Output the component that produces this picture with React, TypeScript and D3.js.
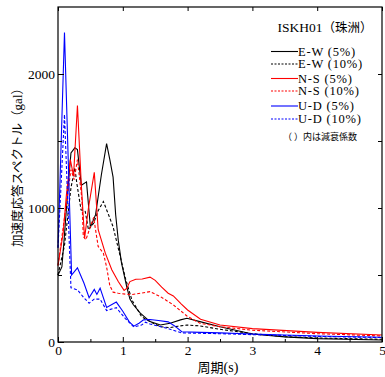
import * as d3 from "d3";
import {useEffect, useRef} from "react";

// response spectra, [period (s), acceleration (gal)]
const ew5: [number, number][] = [
	[0, 500], [0.06, 560], [0.1, 800], [0.16, 1186], [0.2, 1411], [0.26, 1449], [0.3, 1436],
	[0.36, 1170], [0.44, 1195], [0.5, 856], [0.58, 950], [0.67, 1250], [0.75, 1480], [0.8, 1361],
	[0.85, 1230], [0.89, 950], [0.93, 760], [0.98, 590], [1.06, 414], [1.11, 320], [1.16, 280],
	[1.27, 215], [1.42, 152], [1.58, 127], [1.73, 140], [1.89, 165], [1.99, 177], [2.19, 152],
	[2.5, 114], [3, 60], [3.5, 38], [4, 25], [5, 15],
];
const ew10: [number, number][] = [
	[0, 500], [0.1, 720], [0.2, 1150], [0.26, 1300], [0.29, 1186], [0.355, 987], [0.42, 975],
	[0.47, 838], [0.55, 887], [0.62, 980], [0.7, 1049], [0.78, 950], [0.85, 860], [0.9, 760],
	[0.96, 640], [1.04, 476], [1.14, 314], [1.29, 189], [1.42, 152], [1.58, 114], [1.73, 107],
	[1.85, 118], [1.99, 127], [2.19, 120], [2.5, 95], [3, 62], [3.5, 40], [4, 30], [5, 20],
];
const ns5: [number, number][] = [
	[0, 571], [0.08, 813], [0.13, 1100], [0.19, 1361], [0.24, 1240], [0.3, 1765], [0.36, 1170],
	[0.41, 775], [0.47, 1000], [0.56, 1266], [0.62, 838], [0.73, 663], [0.83, 539], [0.93, 451],
	[1.02, 385], [1.06, 400], [1.11, 451], [1.2, 468], [1.3, 470], [1.42, 484], [1.5, 460],
	[1.6, 410], [1.7, 364], [1.78, 344], [1.9, 285], [2.0, 239], [2.2, 170], [2.5, 127],
	[3, 100], [4, 72], [5, 52],
];
const ns10: [number, number][] = [
	[0, 571], [0.11, 963], [0.2, 1286], [0.25, 1212], [0.3, 1361], [0.37, 1062], [0.39, 788],
	[0.43, 763], [0.55, 930], [0.62, 713], [0.7, 663], [0.75, 560], [0.8, 420], [0.85, 372],
	[0.93, 364], [1.06, 356], [1.15, 355], [1.27, 364], [1.42, 376], [1.58, 339], [1.78, 277],
	[1.99, 194], [2.19, 140], [2.5, 114], [3, 88], [4, 62], [5, 45],
];
const ud5: [number, number][] = [
	[0, 703], [0.1, 2309], [0.21, 500], [0.3, 553], [0.4, 440], [0.48, 330], [0.56, 392],
	[0.6, 355], [0.65, 402], [0.75, 258], [0.9, 298], [1.0, 230], [1.1, 150], [1.17, 118],
	[1.25, 140], [1.32, 165], [1.42, 168], [1.55, 160], [1.7, 150], [1.8, 120], [1.91, 77],
	[2.2, 72], [2.5, 68], [3, 60], [4, 45], [5, 36],
];
const ud10: [number, number][] = [
	[0, 703], [0.1, 1698], [0.2, 405], [0.3, 389], [0.4, 330], [0.48, 290], [0.56, 320],
	[0.65, 320], [0.75, 235], [0.9, 256], [1.04, 175], [1.17, 112], [1.29, 127], [1.35, 148],
	[1.42, 135], [1.55, 118], [1.7, 100], [1.91, 68], [2.5, 62], [3, 55], [4, 42], [5, 33],
];

const seriesNames = ["E-W (5%)", "E-W (10%)", "N-S (5%)", "N-S (10%)", "U-D (5%)", "U-D (10%)"];
const seriesData = [ew5, ew10, ns5, ns10, ud5, ud10];
const seriesColors = ["#000000", "#000000", "#ff0000", "#ff0000", "#0000ff", "#0000ff"];
const seriesDashed = [false, true, false, true, false, true];

const xTicks = [0, 1, 2, 3, 4, 5];
const yTicks = [0, 1000, 2000];

const serif = "'Liberation Serif', 'Times New Roman', serif";
const cjk = "'Noto Sans CJK JP', sans-serif";

const App = () => {
	const svgRef = useRef(null);

	useEffect(() => {
		const width = 385;
		const height = 377;
		const margin = {top: 7, right: 3, bottom: 35, left: 58};

		const x = d3.scaleLinear().domain([0, 5]).range([margin.left, width - margin.right]);
		const y = d3.scaleLinear().domain([0, 2500]).range([height - margin.bottom, margin.top]);

		const svg = d3.select(svgRef.current).attr("width", width).attr("height", height);
		svg.selectAll("*").remove();

		// curves
		const line = d3
			.line<[number, number]>()
			.x((d) => x(d[0]))
			.y((d) => y(d[1]));

		seriesData.forEach((data, i) => {
			svg
				.append("path")
				.attr("d", line(data))
				.attr("fill", "none")
				.attr("stroke", seriesColors[i])
				.attr("stroke-width", 1.1)
				.attr("stroke-dasharray", seriesDashed[i] ? "3,2" : null);
		});

		// frame
		svg
			.append("rect")
			.attr("x", x(0))
			.attr("y", y(2500))
			.attr("width", x(5) - x(0))
			.attr("height", y(0) - y(2500))
			.attr("fill", "none")
			.attr("stroke", "#000")
			.attr("stroke-width", 1.2);

		const styleAxis = (g) => {
			g.select(".domain").remove();
			g.selectAll("line").attr("stroke", "#000");
			g.selectAll("text").attr("font-family", serif).attr("font-size", 13.5).attr("fill", "#000");
		};

		// bottom axis: labels on whole seconds, minor ticks every 0.5 s
		svg
			.append("g")
			.attr("transform", `translate(0,${y(0)})`)
			.call(d3.axisBottom(x).tickValues(d3.range(0.5, 5, 1)).tickSize(-3).tickFormat(() => ""))
			.call(styleAxis);
		svg
			.append("g")
			.attr("transform", `translate(0,${y(0)})`)
			.call(d3.axisBottom(x).tickValues(xTicks).tickSize(-5).tickPadding(3).tickFormat(d3.format("d")))
			.call(styleAxis);

		// top axis
		svg
			.append("g")
			.attr("transform", `translate(0,${y(2500)})`)
			.call(d3.axisTop(x).tickValues(xTicks).tickSize(-4).tickFormat(() => ""))
			.call(styleAxis);

		// left axis
		svg
			.append("g")
			.attr("transform", `translate(${x(0)},0)`)
			.call(d3.axisLeft(y).tickValues([500, 1500]).tickSize(-4).tickFormat(() => ""))
			.call(styleAxis);
		svg
			.append("g")
			.attr("transform", `translate(${x(0)},0)`)
			.call(d3.axisLeft(y).tickValues(yTicks).tickSize(-6).tickPadding(3).tickFormat(d3.format("d")))
			.call(styleAxis);

		// right axis
		svg
			.append("g")
			.attr("transform", `translate(${x(5)},0)`)
			.call(d3.axisRight(y).tickValues(d3.range(500, 2500, 500)).tickSize(-4).tickFormat(() => ""))
			.call(styleAxis);

		// axis titles
		const yTitle = svg
			.append("text")
			.attr("transform", `translate(18,${(y(0) + y(2500)) / 2 - 10}) rotate(-90)`)
			.attr("text-anchor", "middle")
			.attr("dy", "0.35em")
			.attr("font-size", 12.5)
			.attr("font-family", cjk);
		yTitle.append("tspan").text("加速度応答スペクトル（");
		yTitle.append("tspan").attr("font-family", serif).attr("font-size", 13).text("gal");
		yTitle.append("tspan").text("）");

		const xTitle = svg
			.append("text")
			.attr("x", (x(0) + x(5)) / 2 - 2)
			.attr("y", 367)
			.attr("dy", "0.35em")
			.attr("text-anchor", "middle")
			.attr("font-size", 13)
			.attr("font-family", cjk);
		xTitle.append("tspan").text("周期");
		xTitle.append("tspan").attr("font-family", serif).attr("font-size", 14).text("(s)");

		// legend
		const title = svg
			.append("text")
			.attr("x", 277.5)
			.attr("y", 27.5)
			.attr("dy", "0.35em")
			.attr("font-size", 13.5);
		title.append("tspan").attr("font-family", serif).text("ISKH01");
		title.append("tspan").attr("font-family", cjk).attr("font-size", 12.5).text("（珠洲）");

		const rowY = [51.5, 64, 78.5, 91, 106, 119];
		const legend = svg
			.append("g")
			.selectAll("g")
			.data(seriesNames)
			.join("g")
			.attr("transform", (_, i) => `translate(0,${rowY[i]})`);

		legend
			.append("line")
			.attr("x1", 271)
			.attr("x2", 298)
			.attr("stroke", (_, i) => seriesColors[i])
			.attr("stroke-width", 1.1)
			.attr("stroke-dasharray", (_, i) => (seriesDashed[i] ? "2,1.5" : null));

		legend
			.append("text")
			.attr("x", 298)
			.attr("dy", "0.35em")
			.attr("font-size", 12.5)
			.attr("font-family", serif)
			.attr("letter-spacing", 0.8)
			.text((d) => d);

		svg
			.append("text")
			.attr("x", 283)
			.attr("y", 137)
			.attr("dy", "0.35em")
			.attr("font-size", 9)
			.attr("font-family", cjk)
			.text("（ ）内は減衰係数");
	}, []);

	return (
		<div style={{position: "absolute", left: 0, top: 0}}>
			<style>{"body { margin: 0; }"}</style>
			<svg ref={svgRef} style={{display: "block", background: "#fff"}}></svg>
		</div>
	);
};

export default App;
